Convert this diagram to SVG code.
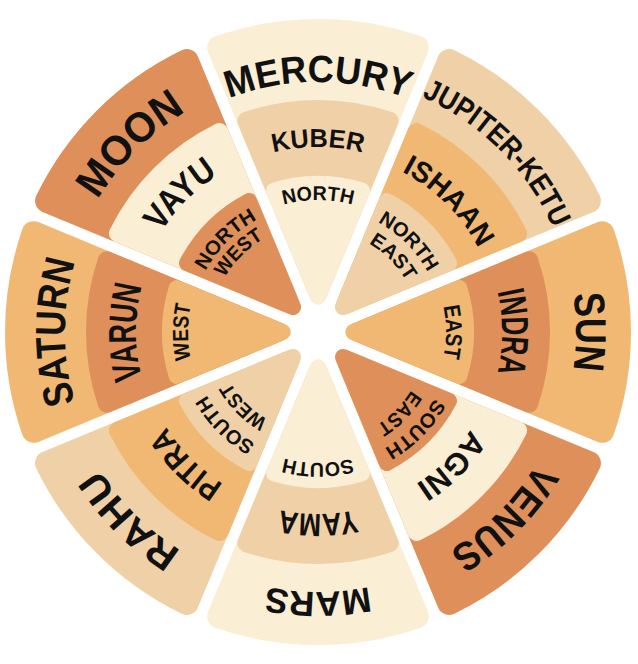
<svg xmlns="http://www.w3.org/2000/svg" xmlns:xlink="http://www.w3.org/1999/xlink" width="638" height="664" viewBox="0 0 638 664">
<style>
.cr{fill:#FAEED5;stroke:#FAEED5}
.tn{fill:#F0D0A7;stroke:#F0D0A7}
.or{fill:#F0B872;stroke:#F0B872}
.dk{fill:#DE8F5A;stroke:#DE8F5A}
.wo{stroke-width:24;stroke-linejoin:round}
.wm{stroke-width:18;stroke-linejoin:round}
.wi{stroke-width:16;stroke-linejoin:round}
text{font-family:"Liberation Sans",Arial,sans-serif;font-weight:bold;fill:#111;text-anchor:middle}
</style>
<defs>
<path id="wedgeO" d="M0,-45.73 L98.82,-284.32 A301,301 0 0 0 -98.82,-284.32 Z"/>
<path id="wedgeM" d="M0,-37.89 L71.76,-211.14 A223,223 0 0 0 -71.76,-211.14 Z"/>
<path id="wedgeI" d="M0,-35.28 L43.93,-141.33 A148,148 0 0 0 -43.93,-141.33 Z"/>
<path id="r250" d="M-216.5,-125 A250,250 0 0 1 216.5,-125"/>
<path id="r253" d="M-219.11,-126.5 A253,253 0 0 1 219.11,-126.5"/>
<path id="r255" d="M-220.84,-127.5 A255,255 0 0 1 220.84,-127.5"/>
<path id="r257" d="M-222.57,-128.5 A257,257 0 0 1 222.57,-128.5"/>
<path id="r258" d="M-223.43,-129 A258,258 0 0 1 223.43,-129"/>
<path id="r260" d="M-225.17,-130 A260,260 0 0 1 225.17,-130"/>
<path id="r179" d="M-155.02,-89.5 A179,179 0 0 1 155.02,-89.5"/>
<path id="r181" d="M-156.75,-90.5 A181,181 0 0 1 156.75,-90.5"/>
<path id="r182" d="M-157.62,-91 A182,182 0 0 1 157.62,-91"/>
<path id="r184" d="M-159.35,-92 A184,184 0 0 1 159.35,-92"/>
<path id="r185" d="M-160.21,-92.5 A185,185 0 0 1 160.21,-92.5"/>
<path id="r186" d="M-161.08,-93 A186,186 0 0 1 161.08,-93"/>
<path id="r101" d="M-87.47,-50.5 A101,101 0 0 1 87.47,-50.5"/>
<path id="r102" d="M-88.33,-51 A102,102 0 0 1 88.33,-51"/>
<path id="r108" d="M-93.53,-54 A108,108 0 0 1 93.53,-54"/>
<path id="r110" d="M-95.26,-55 A110,110 0 0 1 95.26,-55"/>
<path id="r125" d="M-108.25,-62.5 A125,125 0 0 1 108.25,-62.5"/>
<path id="r128" d="M-110.85,-64 A128,128 0 0 1 110.85,-64"/>
<path id="r130" d="M-112.58,-65 A130,130 0 0 1 112.58,-65"/>
<path id="r131" d="M-113.45,-65.5 A131,131 0 0 1 113.45,-65.5"/>
<path id="r132" d="M-114.32,-66 A132,132 0 0 1 114.32,-66"/>
<path id="r134" d="M-116.04,-67 A134,134 0 0 1 116.04,-67"/>
</defs>

<g id="north" transform="translate(318,332) rotate(0)">
<use href="#wedgeO" class="cr wo"/><use href="#wedgeM" class="tn wm"/><use href="#wedgeI" class="cr wi"/>
<text font-size="38"><textPath href="#r250" startOffset="50%" textLength="182" lengthAdjust="spacingAndGlyphs">MERCURY</textPath></text>
<text font-size="26"><textPath href="#r185" startOffset="50%" textLength="90" lengthAdjust="spacingAndGlyphs">KUBER</textPath></text>
<text font-size="20"><textPath href="#r132" startOffset="50%" textLength="70" lengthAdjust="spacingAndGlyphs">NORTH</textPath></text>
</g>

<g id="north-east" transform="translate(318,332) rotate(45)">
<use href="#wedgeO" class="tn wo"/><use href="#wedgeM" class="or wm"/><use href="#wedgeI" class="tn wi"/>
<text font-size="30"><textPath href="#r257" startOffset="50%" textLength="190" lengthAdjust="spacingAndGlyphs">JUPITER-KETU</textPath></text>
<text font-size="29"><textPath href="#r181" startOffset="50%" textLength="110" lengthAdjust="spacingAndGlyphs">ISHAAN</textPath></text>
<text font-size="20"><textPath href="#r125" startOffset="50%" textLength="72" lengthAdjust="spacingAndGlyphs">NORTH</textPath></text>
<text font-size="20"><textPath href="#r102" startOffset="50%" textLength="54" lengthAdjust="spacingAndGlyphs">EAST</textPath></text>
</g>

<g id="east" transform="translate(318,332) rotate(90)">
<use href="#wedgeO" class="or wo"/><use href="#wedgeM" class="dk wm"/><use href="#wedgeI" class="or wi"/>
<text font-size="43"><textPath href="#r258" startOffset="50%" textLength="76" lengthAdjust="spacingAndGlyphs">SUN</textPath></text>
<text font-size="38"><textPath href="#r184" startOffset="50%" textLength="82" lengthAdjust="spacingAndGlyphs">INDRA</textPath></text>
<text font-size="23"><textPath href="#r128" startOffset="50%" textLength="52" lengthAdjust="spacingAndGlyphs">EAST</textPath></text>
</g>

<g id="south-east" transform="translate(318,332) rotate(135)">
<use href="#wedgeO" class="dk wo"/><use href="#wedgeM" class="cr wm"/><use href="#wedgeI" class="dk wi"/>
<text font-size="40"><textPath href="#r255" startOffset="50%" textLength="125" lengthAdjust="spacingAndGlyphs">VENUS</textPath></text>
<text font-size="31"><textPath href="#r181" startOffset="50%" textLength="78" lengthAdjust="spacingAndGlyphs">AGNI</textPath></text>
<text font-size="20"><textPath href="#r134" startOffset="50%" textLength="72" lengthAdjust="spacingAndGlyphs">SOUTH</textPath></text>
<text font-size="20"><textPath href="#r110" startOffset="50%" textLength="50" lengthAdjust="spacingAndGlyphs">EAST</textPath></text>
</g>

<g id="south" transform="translate(318,332) rotate(180)">
<use href="#wedgeO" class="cr wo"/><use href="#wedgeM" class="tn wm"/><use href="#wedgeI" class="cr wi"/>
<text font-size="35"><textPath href="#r260" startOffset="50%" textLength="103" lengthAdjust="spacingAndGlyphs">MARS</textPath></text>
<text font-size="32"><textPath href="#r182" startOffset="50%" textLength="76" lengthAdjust="spacingAndGlyphs">YAMA</textPath></text>
<text font-size="20"><textPath href="#r131" startOffset="50%" textLength="69" lengthAdjust="spacingAndGlyphs">SOUTH</textPath></text>
</g>

<g id="south-west" transform="translate(318,332) rotate(225)">
<use href="#wedgeO" class="tn wo"/><use href="#wedgeM" class="or wm"/><use href="#wedgeI" class="tn wi"/>
<text font-size="39"><textPath href="#r258" startOffset="50%" textLength="117" lengthAdjust="spacingAndGlyphs">RAHU</textPath></text>
<text font-size="32"><textPath href="#r179" startOffset="50%" textLength="82" lengthAdjust="spacingAndGlyphs">PITRA</textPath></text>
<text font-size="20"><textPath href="#r128" startOffset="50%" textLength="70" lengthAdjust="spacingAndGlyphs">SOUTH</textPath></text>
<text font-size="20"><textPath href="#r101" startOffset="50%" textLength="54" lengthAdjust="spacingAndGlyphs">WEST</textPath></text>
</g>

<g id="west" transform="translate(318,332) rotate(270)">
<use href="#wedgeO" class="or wo"/><use href="#wedgeM" class="dk wm"/><use href="#wedgeI" class="or wi"/>
<text font-size="42"><textPath href="#r253" startOffset="50%" textLength="143" lengthAdjust="spacingAndGlyphs">SATURN</textPath></text>
<text font-size="39"><textPath href="#r182" startOffset="50%" textLength="93" lengthAdjust="spacingAndGlyphs">VARUN</textPath></text>
<text font-size="22"><textPath href="#r130" startOffset="50%" textLength="55" lengthAdjust="spacingAndGlyphs">WEST</textPath></text>
</g>

<g id="north-west" transform="translate(318,332) rotate(315)">
<use href="#wedgeO" class="dk wo"/><use href="#wedgeM" class="cr wm"/><use href="#wedgeI" class="dk wi"/>
<text font-size="42"><textPath href="#r257" startOffset="50%" textLength="126" lengthAdjust="spacingAndGlyphs">MOON</textPath></text>
<text font-size="35"><textPath href="#r186" startOffset="50%" textLength="81" lengthAdjust="spacingAndGlyphs">VAYU</textPath></text>
<text font-size="20"><textPath href="#r128" startOffset="50%" textLength="74" lengthAdjust="spacingAndGlyphs">NORTH</textPath></text>
<text font-size="20"><textPath href="#r108" startOffset="50%" textLength="56" lengthAdjust="spacingAndGlyphs">WEST</textPath></text>
</g>

<g id="connectors"></g>
</svg>
